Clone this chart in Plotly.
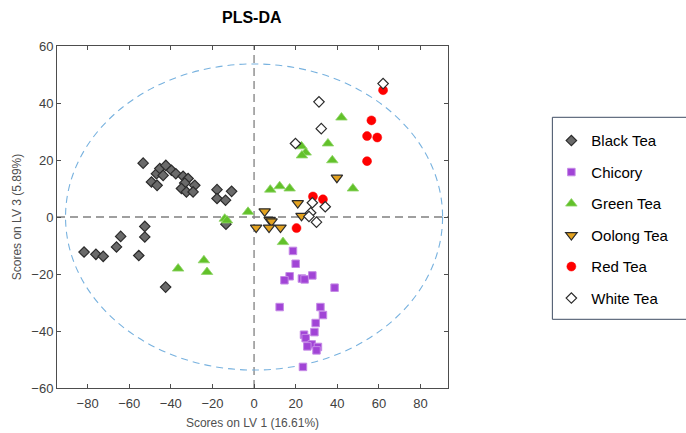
import plotly.graph_objects as go

# ---------------- data ----------------
black_x = [-53.3, -49.3, -46.6, -46.9, -45.3, -43.7, -42.4, -39.7, -37.6, -34.1, -31.7, -33.3,
           -34.9, -32.5, -28.5, -29.3, -17.8, -17.8, -13.7, -10.8, -13.5,
           -81.7, -76.0, -72.5, -66.1, -64.1, -55.4, -52.5, -52.5, -42.5]
black_y = [18.9, 12.3, 11.1, 15.2, 17.0, 14.6, 18.1, 16.4, 15.2, 14.3, 13.5, 11.9,
           10.0, 8.8, 11.1, 8.8, 9.6, 6.5, 5.9, 9.0, -2.5,
           -12.3, -13.1, -13.8, -10.5, -6.8, -13.5, -3.3, -7.0, -24.6]

chicory_x = [18.7, 20.0, 17.1, 14.6, 23.0, 24.3, 28.0, 38.7, 12.3, 31.9,
             33.1, 29.6, 29.0, 24.0, 24.8, 27.7, 25.6, 30.7, 30.0, 23.5]
chicory_y = [-11.9, -16.4, -20.8, -22.2, -21.6, -21.9, -20.5, -24.8, -31.6, -31.6,
             -34.4, -37.2, -40.4, -41.3, -42.5, -44.7, -45.4, -45.6, -46.8, -52.6]

green_x = [42.0, 35.5, 22.8, 24.8, 23.0, 37.6, 47.5, 7.8, 12.3, 17.1,
           -2.9, -14.1, -13.0, 13.9, -36.5, -24.1, -22.6]
green_y = [34.9, 25.8, 24.8, 22.6, 21.6, 19.9, 10.0, 9.6, 10.8, 10.0,
           1.8, -0.6, -1.2, -8.8, -18.1, -15.2, -19.3]

oolong_x = [5.1, 7.5, 8.4, 1.0, 7.2, 12.7, 21.0, 22.8, 39.8]
oolong_y = [2.0, -1.0, -1.5, -3.7, -3.7, -3.7, 4.9, 0.4, 13.8]

red_x = [62.0, 56.4, 54.3, 59.2, 54.3, 28.3, 33.1, 20.4]
red_y = [44.5, 33.9, 28.4, 27.9, 19.6, 7.2, 6.2, -3.9]

white_x = [62.0, 31.2, 32.3, 19.9, 28.0, 34.2, 27.2, 26.4, 30.0]
white_y = [46.8, 40.4, 31.0, 25.8, 5.0, 3.6, 1.5, 0.2, -1.8]

# confidence ellipse semi-axes
ell_a = 90.6
ell_b = 53.7

x_ticks = [-80, -60, -40, -20, 0, 20, 40, 60, 80]
y_ticks = [-60, -40, -20, 0, 20, 40, 60]

FONT = "Liberation Sans, Arial, sans-serif"

series = [
    ("Black Tea", black_x, black_y, dict(symbol="diamond", size=8, color="#6a6a6a",
                                         line=dict(color="#2b2b2b", width=1.2))),
    ("Chicory", chicory_x, chicory_y, dict(symbol="square", size=7.5, color="#a144d6",
                                           line=dict(color="#c58ae6", width=1))),
    ("Green Tea", green_x, green_y, dict(symbol="triangle-up", size=10, color="#62c12a",
                                         line=dict(color="#8fd468", width=0.8))),
    ("Oolong Tea", oolong_x, oolong_y, dict(symbol="triangle-down", size=10, color="#e3a21f",
                                            line=dict(color="#2b2b2b", width=1.2))),
    ("Red Tea", red_x, red_y, dict(symbol="circle", size=9, color="#ff0000",
                                   line=dict(color="#ff0000", width=0.5))),
    ("White Tea", white_x, white_y, dict(symbol="diamond", size=8, color="#ffffff",
                                         line=dict(color="#2b2b2b", width=1.2))),
]

fig = go.Figure()
for i, (name, xs, ys, mk) in enumerate(series):
    fig.add_trace(go.Scatter(x=xs, y=ys, mode="markers", name=name, marker=mk,
                             legendgroup=f"g{i}"))

# plot area pixel geometry
L, R, T, B = 57, 448.5, 45.7, 387.7
W, H = 686, 433
pw, ph = R - L, B - T

def px_x(p):
    return (p - L) / pw

def px_y(p):
    return (B - p) / ph

shapes = [
    dict(type="circle", xref="x", yref="y", x0=-ell_a, x1=ell_a, y0=-ell_b, y1=ell_b,
         line=dict(color="#78b2df", width=1.1, dash="7px,5px"), layer="below"),
    dict(type="line", xref="x", yref="paper", x0=0, x1=0, y0=0, y1=1,
         line=dict(color="#808080", width=1.3, dash="8px,5px"), layer="below"),
    dict(type="line", xref="paper", yref="y", x0=0, x1=1, y0=0, y1=0,
         line=dict(color="#808080", width=1.3, dash="8px,5px"), layer="below"),
    dict(type="rect", xref="paper", yref="paper", x0=px_x(553), x1=px_x(692),
         y0=px_y(319), y1=px_y(117), line=dict(color="#3f4d63", width=1)),
]

axis_common = dict(showgrid=False, zeroline=False, showline=True, linecolor="#4d4d4d",
                   linewidth=1, mirror="ticks", ticks="inside", ticklen=4, automargin=False,
                   tickcolor="#4d4d4d", tickfont=dict(family=FONT, size=13, color="#404040"))

fig.update_layout(
    width=W, height=H,
    margin=dict(l=L, r=W - R, t=T, b=H - B, autoexpand=False),
    paper_bgcolor="white", plot_bgcolor="white",
    font=dict(family=FONT),
    title=dict(text="<b>PLS-DA</b>", x=px_x(252), xref="paper", xanchor="center",
               y=1 - 17 / H, yref="container", yanchor="middle",
               font=dict(family=FONT, size=16, color="#000000")),
    xaxis=dict(range=[-94.7, 93.2], tickvals=x_ticks, ticklabelstandoff=3,
               title=dict(text="Scores on LV 1 (16.61%)", standoff=9,
                          font=dict(family=FONT, size=12, color="#505050")),
               **axis_common),
    yaxis=dict(range=[-60, 60], tickvals=y_ticks,
               title=dict(text="Scores on LV 3 (5.89%)", standoff=7,
                          font=dict(family=FONT, size=12, color="#505050")),
               **axis_common),
    showlegend=True,
    legend=dict(x=px_x(552), xanchor="left", y=px_y(124), yanchor="top",
                font=dict(family=FONT, size=15, color="#000000"),
                bgcolor="rgba(0,0,0,0)", borderwidth=0, tracegroupgap=9),
    shapes=shapes,
)

fig.write_html("out.html")
